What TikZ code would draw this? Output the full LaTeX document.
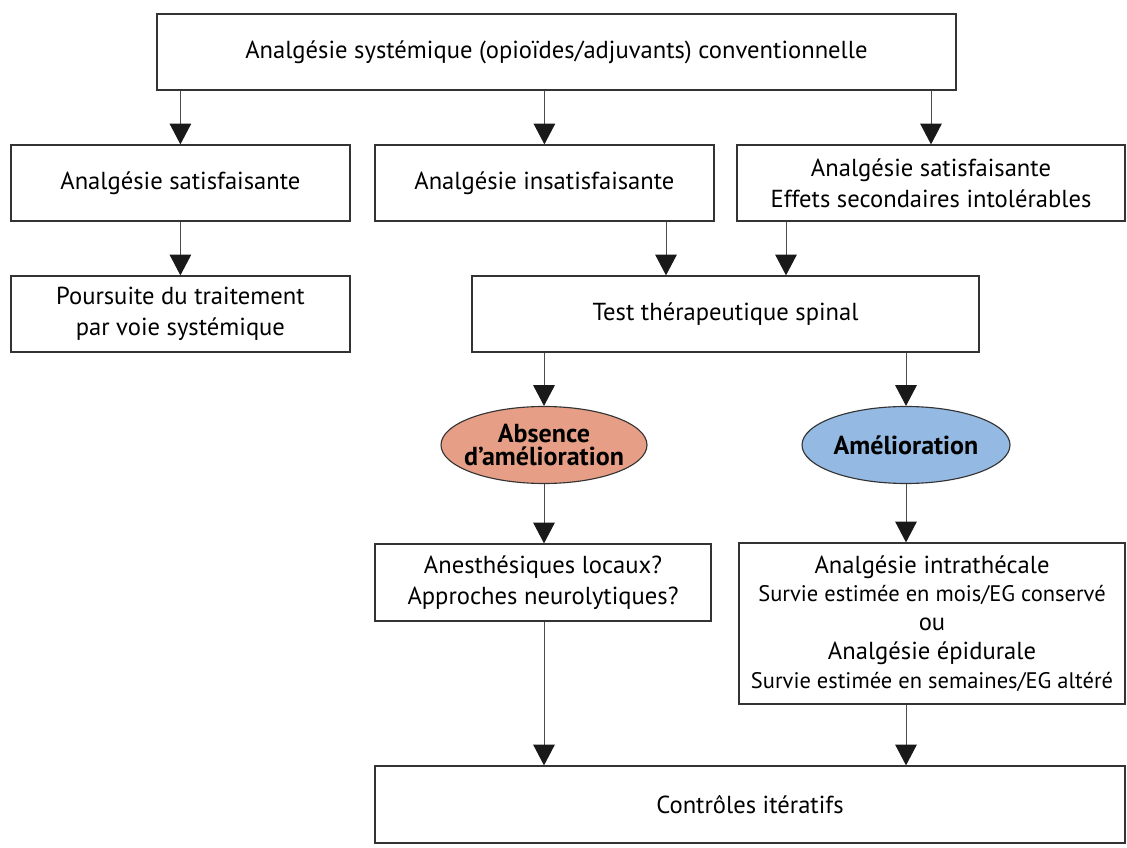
\documentclass[tikz,border=0pt]{standalone}
\usepackage{fontspec}
\setmainfont{PT Sans}
\usepackage{tikz}
\usepackage{xcolor}
\definecolor{saumon}{HTML}{E69F86}
\definecolor{bleuclair}{HTML}{94B9E2}
\tikzstyle{boxes} = [rectangle, minimum height=1.9cm, inner sep=0pt, align=center, draw=black!80,
line width=0.9pt, font=\fontsize{17.5}{22}\selectfont]
\tikzstyle{oval} = [ellipse, minimum height=1.925cm, inner sep=-8pt, align=center, draw=black!80,
line width=0.8pt, font=\bfseries\fontsize{18.5}{17}\selectfont]
\tikzstyle{arrow} = [line width=0.7pt, draw=black!70, -{Triangle[width=5.4mm,length=5.2mm,color=black!90]}]
\usetikzlibrary{shapes.geometric,arrows.meta}

\begin{document}
\begin{tikzpicture}
        \useasboundingbox (0,0) rectangle (28.175,-21.2);

        \draw (13.91,-1.3) node[boxes, minimum width=19.975cm] (syst) {Analgésie systémique (opioïdes/adjuvants) conventionnelle};

        \draw (4.51,-4.575) node[boxes, minimum width=8.475cm] (satis) {Analgésie satisfaisante}
        (13.61,-4.575) node[boxes, minimum width=8.475cm] (insat) {Analgésie insatisfaisante}
        (23.275,-4.575) node[boxes, minimum width=9.7cm] (effets) {Analgésie satisfaisante\\Effets secondaires intolérables};

        \draw (4.51,-7.85) node[boxes, minimum width=8.475cm] (poursuite) {Poursuite du traitement\\par voie systémique}
        (18.14,-7.85) node[boxes, minimum width=12.675cm] (test) {Test thérapeutique spinal};

        \draw (13.6,-11.125) node[oval, fill=saumon, minimum width=5.15cm] (absence) {Absence\\d’amélioration}
        (22.65,-11.125) node[oval, fill=bleuclair, minimum width=5.2cm] (amelio) {Amélioration};

        \draw (13.575,-14.5625) node[boxes, minimum width=8.4cm, minimum height=1.925cm] (anest) {Anesthésiques locaux?\\Approches neurolytiques?}
        (23.3,-15.5875) node[boxes, minimum width=9.65cm, minimum height=4.025cm, font=\fontsize{17.5}{20.5}\selectfont] (intra) {Analgésie intrathécale\\
        {\fontsize{16}{20}\selectfont Survie estimée en mois/EG conservé}\\ou\\Analgésie épidurale\\
        {\fontsize{16}{20}\selectfont Survie estimée en semaines/EG altéré}};

        \draw (18.75,-20.1125) node[boxes, minimum width=18.75cm, minimum height=1.925cm] (ctrl) {Contrôles itératifs};

        \coordinate (g) at (16.65,0);
        \coordinate (d) at (19.65,0);

        \draw[arrow] (syst.south -| satis) -- (satis.north);
        \draw[arrow] (syst.south -| insat) -- (insat.north);
        \draw[arrow] (syst.south -| effets) -- (effets.north);

        \draw[arrow] (satis.south) -- (poursuite.north);
        \draw[arrow] (insat.south -| g) -- (test.north -| g);
        \draw[arrow] (effets.south -| d) -- (test.north -| d);

        \draw[arrow] (test.south -| absence) -- (absence.north);
        \draw[arrow] (test.south -| amelio) -- (amelio.north);
        \draw[arrow] (absence.south) -- (anest.north -| absence);
        \draw[arrow] (amelio.south) -- (intra.north -| amelio);

        \draw[arrow] (anest.south -| absence) -- (ctrl.north -| absence);
        \draw[arrow] (intra.south -| amelio) -- (ctrl.north -| amelio);
    \end{tikzpicture}
\end{document}
